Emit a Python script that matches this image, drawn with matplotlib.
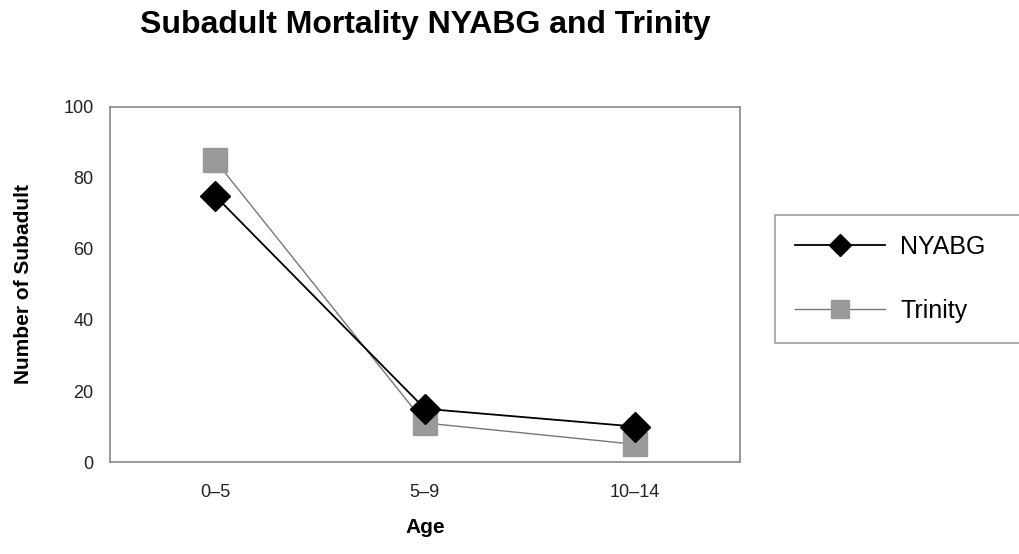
import matplotlib.pyplot as plt

plt.rcParams["font.family"] = ["Liberation Sans", "DejaVu Sans"]

ages = ["0–5", "5–9", "10–14"]
nyabg = [75, 15, 10]
trinity = [85, 11, 5]

fig = plt.figure(figsize=(10.19, 5.54), dpi=100)
ax = fig.add_axes([0.108, 0.166, 0.618, 0.641])

x = range(len(ages))
ax.plot(x, nyabg, color="black", lw=1.3, marker="D", ms=15,
        markerfacecolor="black", markeredgecolor="black", label="NYABG", zorder=3)
ax.plot(x, trinity, color="#777777", lw=1.0, marker="s", ms=17,
        markerfacecolor="#999999", markeredgecolor="#999999", label="Trinity", zorder=2)

ax.set_xlim(-0.5, 2.5)
ax.set_ylim(0, 100)
ax.set_xticks(list(x))
ax.set_xticklabels(ages)
ax.set_yticks([0, 20, 40, 60, 80, 100])
ax.tick_params(length=0, labelsize=13, colors="#222222", pad=12)
ax.tick_params(axis="x", pad=16)
for s in ax.spines.values():
    s.set_color("#888888")
    s.set_linewidth(1.2)

ax.set_xlabel("Age", fontsize=15, fontweight="bold", labelpad=12)
ax.set_ylabel("Number of Subadult", fontsize=15, fontweight="bold", labelpad=22)

fig.text(0.417, 0.955, "Subadult Mortality NYABG and Trinity", fontsize=23,
         fontweight="bold", ha="center", va="center")

leg = fig.legend(loc="center left", bbox_to_anchor=(0.761, 0.381, 0.26, 0.231),
                 mode="expand", borderaxespad=0, fontsize=18, frameon=True,
                 fancybox=False, edgecolor="#888888", handlelength=3.6,
                 handletextpad=0.6, borderpad=0.8, labelspacing=1.6,
                 markerscale=0.75)
leg.get_frame().set_linewidth(1.2)

fig.savefig("out.png", dpi=100)
